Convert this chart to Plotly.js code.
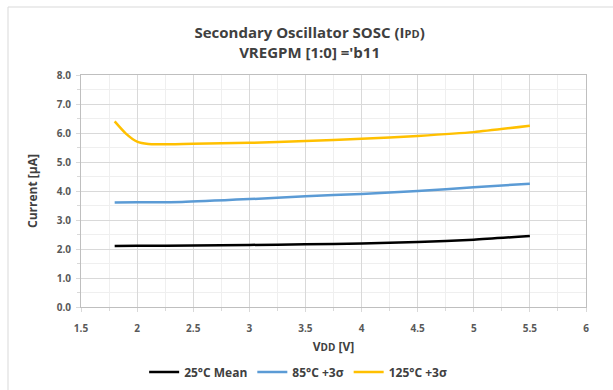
<!DOCTYPE html>
<html><head><meta charset="utf-8">
<script src="https://cdn.plot.ly/plotly-3.0.1.min.js"></script>
<style>body{margin:0;background:#fff}#c{width:613px;height:390px}</style>
</head><body><div id="c"></div>
<script>
const vdd25 = [1.8, 2.0, 2.5, 3.0, 3.5, 4.0, 4.5, 5.0, 5.5];
const cur25 = [2.10, 2.11, 2.12, 2.14, 2.16, 2.19, 2.24, 2.32, 2.45];
const vdd85 = [1.8, 2.0, 2.4, 3.0, 3.5, 4.0, 4.5, 5.0, 5.5];
const cur85 = [3.60, 3.61, 3.62, 3.72, 3.82, 3.90, 4.00, 4.13, 4.25];
const vdd125 = [1.8, 1.9, 2.0, 2.1, 2.5, 3.0, 3.5, 4.0, 4.5, 5.0, 5.5];
const cur125 = [6.40, 5.98, 5.70, 5.62, 5.63, 5.66, 5.72, 5.80, 5.90, 6.03, 6.25];
const seriesNames = ['25°C Mean', '85°C +3σ', '125°C +3σ'];
const xTicks = [1.5, 2, 2.5, 3, 3.5, 4, 4.5, 5, 5.5, 6];
const xTickText = ['1.5', '2', '2.5', '3', '3.5', '4', '4.5', '5', '5.5', '6'];

const font = 'Open Sans, Liberation Sans, sans-serif';
const mk = (x, y, name, color) => ({x, y, name, type: 'scatter', mode: 'lines',
  line: {color, width: 2.5, shape: 'spline', smoothing: 0.6}});
const data = [
  mk(vdd25, cur25, seriesNames[0], '#000000'),
  mk(vdd85, cur85, seriesNames[1], '#5b9bd5'),
  mk(vdd125, cur125, seriesNames[2], '#ffc000')
];
const tickFont = {family: font, size: 10, color: '#595959', weight: 'bold'};
const layout = {
  width: 613, height: 390,
  margin: {l: 81, r: 27, t: 75, b: 83},
  paper_bgcolor: '#fff', plot_bgcolor: '#fff',
  font: {family: font},
  title: {text: '<b>Secondary Oscillator SOSC (I<span style="font-size:11px">PD</span>)<br>VREGPM [1:0] =\'b11</b>',
    x: 0.505, xanchor: 'center', yref: 'container', y: 1 - 38 / 390, yanchor: 'middle',
    font: {family: font, size: 15, color: '#404040'}},
  xaxis: {range: [1.5, 6], tickvals: xTicks, ticktext: xTickText, tickfont: tickFont, automargin: false,
    showgrid: true, gridcolor: '#d9d9d9', gridwidth: 1, ticklabelstandoff: 8,
    minor: {dtick: 0.25, showgrid: true, gridcolor: '#efefef', ticks: 'outside', ticklen: 3, tickcolor: '#d9d9d9'},
    ticks: 'outside', ticklen: 4, tickcolor: '#d9d9d9',
    showline: true, linecolor: '#bfbfbf', mirror: true, zeroline: false,
    title: {text: '<b>V<span style="font-size:10px">DD</span> [V]</b>', standoff: 8,
      font: {family: font, size: 12, color: '#404040'}}},
  yaxis: {range: [0, 8], dtick: 1, tickformat: '.1f', tickfont: tickFont, automargin: false,
    showgrid: true, gridcolor: '#d9d9d9', gridwidth: 1, ticklabelstandoff: 3,
    minor: {dtick: 0.5, showgrid: true, gridcolor: '#efefef', ticks: 'outside', ticklen: 3, tickcolor: '#d9d9d9'},
    ticks: 'outside', ticklen: 4, tickcolor: '#d9d9d9',
    showline: true, linecolor: '#bfbfbf', mirror: true, zeroline: false,
    title: {text: '<b>Current [µA]</b>', standoff: 16,
      font: {family: font, size: 12, color: '#404040'}}},
  legend: {orientation: 'h', x: 0.43, xanchor: 'center', yref: 'container', y: 1 - 372 / 390, yanchor: 'middle',
    font: {family: font, size: 12, color: '#404040', weight: 'bold'}, itemwidth: 30, traceorder: 'normal'},
  showlegend: true,
  shapes: [{type: 'rect', xref: 'paper', yref: 'paper',
    x0: (8 - 81) / 505, x1: 1.2, y0: -0.5, y1: 1 + (75 - 7) / 232,
    line: {color: '#d9d9d9', width: 1}, layer: 'below'}]
};
Plotly.newPlot('c', data, layout, {staticPlot: true});
</script></body></html>
